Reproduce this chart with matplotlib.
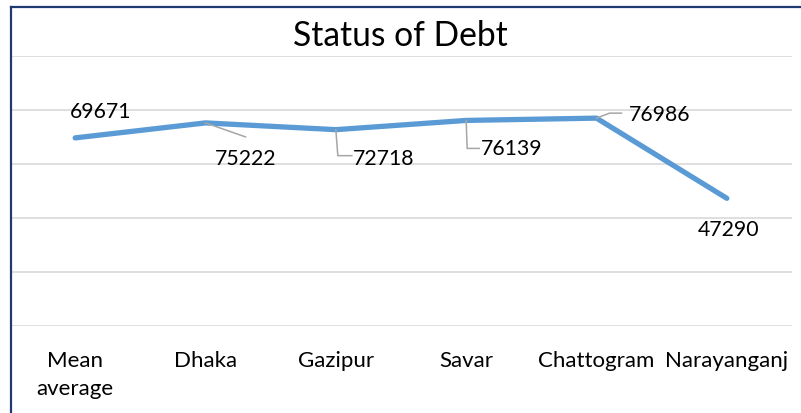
import matplotlib
matplotlib.use("Agg")
import matplotlib.pyplot as plt
from matplotlib.lines import Line2D
from matplotlib.transforms import Affine2D

plt.rcParams['font.family'] = ['Lato', 'DejaVu Sans']

categories = ['Mean\naverage', 'Dhaka', 'Gazipur', 'Savar', 'Chattogram', 'Narayanganj']
debt = [69671, 75222, 72718, 76139, 76986, 47290]
labels = ['69671', '75222', '72718', '76139', '76986', '47290']

# label offsets from the point, in pixels (x right, y up)
label_offsets = [(25, 27), (40, -35), (48, -28), (46, -28), (63, 4), (2, -31)]
# leader polylines, pixel offsets from the point
leaders = [
    None,
    [(0, 0), (40, -14)],
    [(0, 0), (2, -26), (16, -26)],
    [(0, 0), (1, -28), (13, -28)],
    [(0, 0), (13, 5), (25, 5)],
    None,
]

W, H = 801, 414
fig = plt.figure(figsize=(W / 100, H / 100), dpi=100)
ax = fig.add_axes([10 / W, 1 - 327 / H, (792 - 10) / W, (327 - 57) / H])

x = list(range(len(categories)))
ax.plot(x, debt, color='#5B9BD5', lw=3.8, solid_capstyle='round', solid_joinstyle='round', zorder=3)

ax.set_xlim(-0.5, len(categories) - 0.5)
ax.set_ylim(0, 100000)
ax.set_yticks(range(0, 100001, 20000))
ax.yaxis.grid(True, color='#D9D9D9', lw=1.2)
ax.set_axisbelow(True)
ax.tick_params(axis='y', left=False, labelleft=False)
ax.set_xticks(x)
ax.set_xticklabels(categories, fontsize=16, color='#000000', linespacing=1.5)
ax.tick_params(axis='x', length=0, pad=17)
for s in ax.spines.values():
    s.set_visible(False)

for i, v in enumerate(debt):
    px, py = ax.transData.transform((i, v))
    dx, dy = label_offsets[i]
    ax.annotate(labels[i], xy=(i, v), xytext=(dx, dy), textcoords='offset pixels',
                ha='center', va='center', fontsize=15.3, color='#000000')
    if leaders[i] is not None:
        xs = [p[0] for p in leaders[i]]
        ys = [p[1] for p in leaders[i]]
        line = Line2D(xs, ys, color='#A6A6A6', lw=1.1,
                      transform=Affine2D().translate(px, py))
        fig.add_artist(line)

fig.text(400 / W, 1 - 46 / H, 'Status of Debt', ha='center', va='baseline', fontsize=24.2, color='#000000')

# chart frame (only left and top edges fall inside the image)
fig.add_artist(Line2D([10.5 / W, 10.5 / W], [0, 1 - 8 / H], color='#1F3A70', lw=1.6))
fig.add_artist(Line2D([10.5 / W, 1], [1 - 8 / H, 1 - 8 / H], color='#1F3A70', lw=1.6))

fig.savefig('out.png', dpi=100)
